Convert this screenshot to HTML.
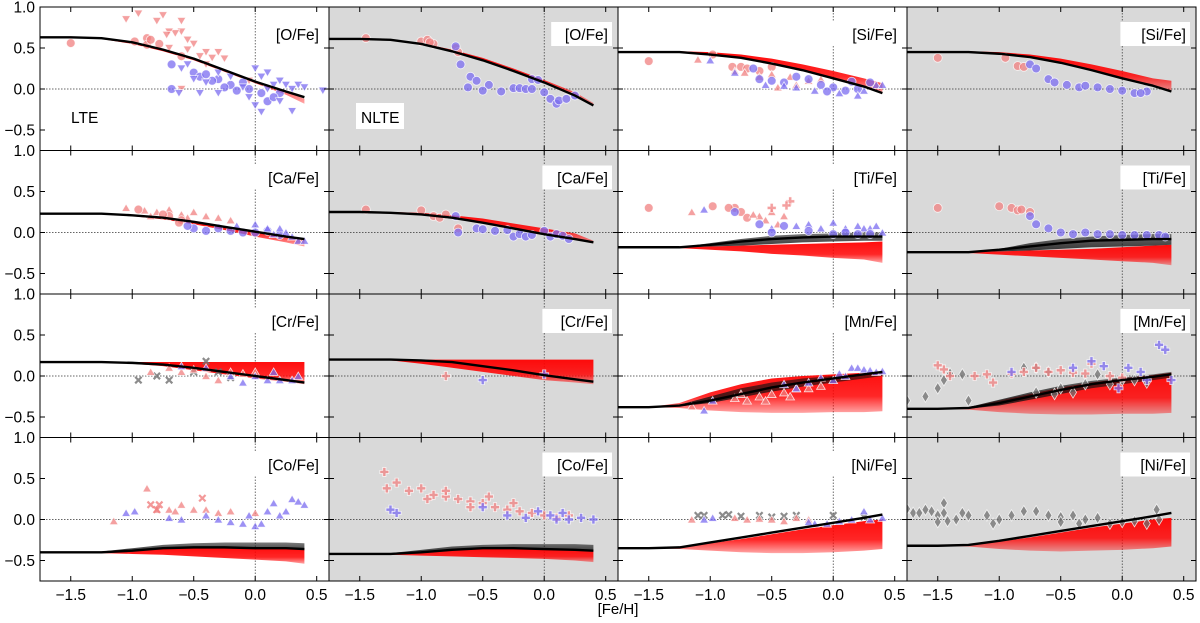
<!DOCTYPE html>
<html><head><meta charset="utf-8"><style>
html,body{margin:0;padding:0;background:#fff;}
svg{display:block;font-family:"Liberation Sans","DejaVu Sans",sans-serif;}
</style></head><body>
<svg id="fig" width="1200" height="623" viewBox="0 0 1200 623">
<defs>
<linearGradient id="redGrad" x1="0" y1="0" x2="0" y2="1">
<stop offset="0" stop-color="#ff0000" stop-opacity="0.95"/>
<stop offset="0.6" stop-color="#ff0000" stop-opacity="0.85"/>
<stop offset="1" stop-color="#ff0000" stop-opacity="0.35"/>
</linearGradient>
<linearGradient id="blkGrad" x1="0" y1="0" x2="0" y2="1">
<stop offset="0" stop-color="#111" stop-opacity="0.55"/>
<stop offset="1" stop-color="#111" stop-opacity="0.85"/>
</linearGradient>
</defs>
</svg>
<script>
// ---- data ----
const modelX = [-1.75,-1.5,-1.25,-1.0,-0.75,-0.5,-0.25,0,0.25,0.4];
const xTicks = [-1.5,-1.0,-0.5,0.0,0.5];
const xTickLabels = ["\u22121.5","\u22121.0","\u22120.5","0.0","0.5"];
const yTicks = [-0.5,0.0,0.5,1.0];
const yTickLabels = ["\u22120.5","0.0","0.5","1.0"];
const panelLabels = ["[O/Fe]","[O/Fe]","[Si/Fe]","[Si/Fe]","[Ca/Fe]","[Ca/Fe]","[Ti/Fe]","[Ti/Fe]","[Cr/Fe]","[Cr/Fe]","[Mn/Fe]","[Mn/Fe]","[Co/Fe]","[Co/Fe]","[Ni/Fe]","[Ni/Fe]"];

const lineO_L=[0.63,0.63,0.62,0.57,0.48,0.37,0.23,0.09,-0.03,-0.1];
const lineO_N=[0.61,0.61,0.6,0.55,0.46,0.35,0.22,0.08,-0.08,-0.2];
const lineSi_L=[0.45,0.45,0.45,0.42,0.38,0.31,0.23,0.13,0.03,-0.05];
const lineSi_N=[0.45,0.45,0.45,0.43,0.39,0.32,0.23,0.13,0.04,-0.03];
const lineCa_L=[0.23,0.23,0.23,0.21,0.18,0.13,0.07,0.01,-0.05,-0.08];
const lineCa_N=[0.25,0.25,0.24,0.22,0.18,0.12,0.05,-0.02,-0.08,-0.12];
const lineTi_L=[-0.18,-0.18,-0.18,-0.15,-0.11,-0.08,-0.06,-0.05,-0.05,-0.05];
const lineTi_N=[-0.24,-0.24,-0.24,-0.21,-0.17,-0.13,-0.1,-0.09,-0.08,-0.08];
const lineCr_L=[0.17,0.17,0.17,0.16,0.14,0.1,0.05,0.0,-0.05,-0.08];
const lineCr_N=[0.2,0.2,0.2,0.19,0.17,0.12,0.07,0.01,-0.04,-0.07];
const lineMn_L=[-0.38,-0.38,-0.36,-0.3,-0.22,-0.14,-0.08,-0.03,0.02,0.05];
const lineMn_N=[-0.4,-0.4,-0.39,-0.33,-0.25,-0.17,-0.1,-0.05,-0.01,0.02];
const lineCo_L=[-0.4,-0.4,-0.4,-0.38,-0.35,-0.34,-0.34,-0.35,-0.35,-0.36];
const lineCo_N=[-0.42,-0.42,-0.42,-0.4,-0.37,-0.35,-0.35,-0.36,-0.37,-0.38];
const lineNi_L=[-0.35,-0.35,-0.34,-0.28,-0.22,-0.16,-0.1,-0.04,0.02,0.06];
const lineNi_N=[-0.32,-0.32,-0.31,-0.26,-0.2,-0.14,-0.08,-0.02,0.04,0.08];

const redUpO_L=[0.63,0.63,0.62,0.57,0.48,0.37,0.23,0.09,-0.03,-0.12];
const redLoO_L=[0.63,0.63,0.61,0.55,0.46,0.35,0.21,0.07,-0.07,-0.18];
const redUpO_N=[0.61,0.61,0.6,0.56,0.48,0.38,0.25,0.11,-0.04,-0.17];
const redLoO_N=[0.61,0.61,0.6,0.55,0.46,0.35,0.22,0.08,-0.08,-0.2];
const redUpSi_L=[0.45,0.45,0.46,0.45,0.42,0.37,0.3,0.22,0.13,0.07];
const redLoSi_L=[0.45,0.45,0.45,0.42,0.38,0.31,0.23,0.13,0.03,-0.05];
const redUpSi_N=[0.45,0.45,0.46,0.45,0.42,0.37,0.3,0.22,0.13,0.1];
const redLoSi_N=[0.45,0.45,0.45,0.43,0.39,0.32,0.23,0.13,0.04,-0.03];
const redUpCa_L=[0.23,0.23,0.23,0.21,0.18,0.13,0.07,0.01,-0.05,-0.08];
const redLoCa_L=[0.23,0.23,0.22,0.2,0.16,0.1,0.03,-0.05,-0.12,-0.17];
const redUpCa_N=[0.25,0.25,0.25,0.24,0.21,0.17,0.11,0.05,-0.01,-0.1];
const redLoCa_N=[0.25,0.25,0.24,0.22,0.18,0.12,0.05,-0.02,-0.09,-0.13];
const redUpTi_L=[-0.18,-0.18,-0.18,-0.17,-0.16,-0.15,-0.14,-0.13,-0.12,-0.11];
const redLoTi_L=[-0.18,-0.18,-0.19,-0.21,-0.23,-0.26,-0.28,-0.31,-0.33,-0.37];
const redUpTi_N=[-0.24,-0.24,-0.24,-0.23,-0.22,-0.21,-0.2,-0.18,-0.16,-0.15];
const redLoTi_N=[-0.24,-0.24,-0.25,-0.27,-0.29,-0.31,-0.33,-0.35,-0.37,-0.4];
const redUpCr_L=[0.17,0.17,0.17,0.17,0.17,0.17,0.17,0.17,0.17,0.17];
const redLoCr_L=[0.17,0.17,0.17,0.15,0.12,0.07,0.02,-0.03,-0.07,-0.1];
const redUpCr_N=[0.2,0.2,0.2,0.2,0.2,0.2,0.2,0.2,0.2,0.2];
const redLoCr_N=[0.2,0.2,0.19,0.15,0.1,0.05,0.0,-0.05,-0.08,-0.1];
const redUpMn_L=[-0.38,-0.38,-0.33,-0.2,-0.1,-0.03,0.0,0.02,0.04,0.06];
const redLoMn_L=[-0.38,-0.38,-0.39,-0.42,-0.44,-0.45,-0.45,-0.44,-0.44,-0.43];
const redUpMn_N=[-0.4,-0.4,-0.38,-0.3,-0.22,-0.14,-0.08,-0.03,0.01,0.04];
const redLoMn_N=[-0.4,-0.4,-0.41,-0.44,-0.46,-0.47,-0.47,-0.46,-0.46,-0.45];
const redUpCo_L=[-0.4,-0.4,-0.4,-0.38,-0.35,-0.34,-0.34,-0.35,-0.35,-0.36];
const redLoCo_L=[-0.4,-0.4,-0.41,-0.42,-0.43,-0.45,-0.47,-0.49,-0.51,-0.54];
const redUpCo_N=[-0.42,-0.42,-0.42,-0.4,-0.37,-0.35,-0.35,-0.36,-0.37,-0.38];
const redLoCo_N=[-0.42,-0.42,-0.43,-0.44,-0.45,-0.46,-0.47,-0.48,-0.5,-0.52];
const redUpNi_L=[-0.35,-0.35,-0.34,-0.29,-0.24,-0.18,-0.12,-0.07,-0.02,0.0];
const redLoNi_L=[-0.35,-0.35,-0.36,-0.38,-0.4,-0.41,-0.41,-0.4,-0.38,-0.36];
const redUpNi_N=[-0.32,-0.32,-0.31,-0.27,-0.22,-0.16,-0.1,-0.05,0.0,0.02];
const redLoNi_N=[-0.32,-0.32,-0.33,-0.36,-0.38,-0.39,-0.38,-0.37,-0.35,-0.33];

const blkUpTi_L=[-0.18,-0.18,-0.18,-0.13,-0.08,-0.04,-0.02,-0.01,0.0,0.0];
const blkLoTi_L=[-0.18,-0.18,-0.18,-0.17,-0.16,-0.14,-0.12,-0.11,-0.1,-0.1];
const blkUpTi_N=[-0.24,-0.24,-0.24,-0.2,-0.13,-0.08,-0.05,-0.03,-0.02,-0.02];
const blkLoTi_N=[-0.24,-0.24,-0.24,-0.23,-0.22,-0.2,-0.18,-0.17,-0.16,-0.15];
const blkUpMn_L=[-0.38,-0.38,-0.35,-0.25,-0.15,-0.08,-0.03,0.0,0.03,0.06];
const blkLoMn_L=[-0.38,-0.38,-0.37,-0.33,-0.26,-0.19,-0.13,-0.08,-0.03,0.0];
const blkUpMn_N=[-0.4,-0.4,-0.38,-0.29,-0.2,-0.12,-0.06,-0.02,0.02,0.05];
const blkLoMn_N=[-0.4,-0.4,-0.4,-0.36,-0.29,-0.22,-0.15,-0.1,-0.05,-0.02];
const blkUpCo_L=[-0.4,-0.4,-0.39,-0.35,-0.31,-0.29,-0.28,-0.28,-0.28,-0.29];
const blkUpCo_N=[-0.42,-0.42,-0.41,-0.37,-0.33,-0.31,-0.3,-0.3,-0.3,-0.31];

const oL_redV=[[-0.95,0.92],[-1.05,0.85],[-0.75,0.9],[-0.8,0.83],[-0.6,0.83],[-0.6,0.7],[-0.65,0.68],[-0.7,0.7],[-0.72,0.66],[-0.4,0.45],[-0.45,0.4],[-0.3,0.45],[-0.35,0.38],[-0.5,0.55],[-0.55,0.6],[-0.25,0.37],[-0.4,0.3],[-0.55,0.48],[-0.7,0.5],[-0.05,0.1],[-0.6,0.0]];
const oL_redO=[[-1.5,0.56],[-0.98,0.58],[-0.88,0.62],[-0.78,0.55],[-0.88,0.54],[-0.6,0.4],[-0.85,0.6]];
const oL_blueO=[[-0.68,0.3],[-0.5,0.2],[-0.45,0.15],[-0.3,0.12],[-0.68,0.0],[-0.2,0.05],[-0.1,0.08],[-0.05,0.0],[0.05,-0.05],[0.1,-0.15],[0.2,-0.05],[0.15,-0.1],[-0.35,0.1],[-0.15,-0.02],[-0.4,0.18],[-0.25,0.02]];
const oL_blueV=[[-0.6,0.25],[-0.55,0.3],[-0.5,0.12],[-0.4,0.08],[-0.3,0.2],[-0.2,0.15],[-0.1,0.02],[0.0,0.25],[0.05,0.15],[0.1,0.0],[0.15,0.05],[0.2,0.1],[0.25,0.05],[0.3,0.0],[0.35,0.05],[0.4,0.02],[0.3,-0.27],[0.0,-0.2],[0.05,-0.28],[-0.3,-0.05],[-0.62,-0.05],[0.55,-0.02],[0.2,-0.15],[-0.45,-0.05],[0.1,0.2],[-0.05,-0.1]];
const oN_redO=[[-1.45,0.62],[-1.0,0.58],[-0.95,0.6],[-0.9,0.55],[-0.93,0.57],[-0.72,0.5],[-0.7,0.45]];
const oN_blueO=[[-0.72,0.52],[-0.68,0.3],[-0.6,0.15],[-0.55,0.1],[-0.45,0.05],[-0.62,0.02],[-0.5,-0.02],[-0.35,-0.03],[-0.25,0.01],[-0.2,0.01],[-0.15,0.0],[-0.1,0.0],[0.0,-0.04],[0.05,-0.12],[0.1,-0.18],[0.12,-0.14],[0.18,-0.12],[0.25,-0.08],[-0.1,0.12],[-0.05,0.11]];
const siL_redO=[[-1.5,0.34],[-0.98,0.42],[-0.75,0.27],[-0.7,0.25],[-0.5,0.27],[-0.6,0.22],[-0.82,0.27]];
const siL_redT=[[-1.1,0.36],[-0.72,0.2],[-0.6,0.15],[-0.45,0.02],[-0.3,0.05],[-0.2,0.1],[-0.5,0.18],[-0.35,0.15],[-0.8,0.22],[-0.1,0.12]];
const siL_blueO=[[-0.65,0.25],[-0.4,0.08],[-0.3,0.15],[-0.2,0.12],[-0.1,0.05],[0.0,0.02],[0.1,-0.02],[0.2,0.0],[-0.5,0.1],[0.3,0.08],[0.15,0.09],[-0.05,-0.03],[-0.6,0.12]];
const siL_blueT=[[-1.0,0.35],[-0.8,0.2],[-0.3,0.02],[0.2,-0.08],[0.35,0.05],[0.4,0.05],[0.05,-0.05],[-0.15,-0.02],[-0.55,0.05],[0.25,-0.02],[-0.4,0.04]];
const siN_redO=[[-1.5,0.38],[-0.95,0.38],[-0.85,0.28],[-0.8,0.27]];
const siN_blueO=[[-0.75,0.3],[-0.7,0.25],[-0.6,0.12],[-0.55,0.08],[-0.45,0.05],[-0.35,0.02],[-0.3,0.04],[-0.2,0.02],[-0.1,0.0],[0.0,-0.02],[0.1,-0.05],[0.2,-0.03],[0.15,-0.05]];
const caL_redT=[[-1.05,0.3],[-0.9,0.27],[-0.8,0.25],[-0.7,0.28],[-0.6,0.22],[-0.5,0.25],[-0.4,0.2],[-0.3,0.18],[-0.2,0.15],[-0.85,0.2],[-0.55,0.18]];
const caL_redO=[[-0.95,0.28],[-0.7,0.2],[-0.6,0.15],[-0.75,0.22],[-0.62,0.12]];
const caL_blueO=[[-0.5,0.05],[-0.4,0.02],[-0.3,0.05],[-0.2,0.02],[-0.1,0.0],[0.0,0.0],[0.1,0.02],[0.2,-0.03],[-0.55,0.08]];
const caL_blueT=[[0.0,0.1],[0.1,0.05],[0.2,0.05],[0.3,-0.05],[0.35,-0.1],[0.4,-0.1],[0.25,0.0],[-0.15,0.08],[0.15,-0.02]];
const caN_redO=[[-1.45,0.28],[-1.0,0.27],[-0.9,0.2],[-0.85,0.18],[-0.8,0.22],[-0.7,0.05]];
const caN_blueO=[[-0.72,0.2],[-0.7,0.0],[-0.55,0.05],[-0.5,0.04],[-0.4,0.02],[-0.3,0.03],[-0.25,-0.05],[-0.2,-0.02],[-0.15,-0.05],[-0.1,-0.03],[0.0,0.02],[0.05,-0.05],[0.1,-0.02],[0.15,-0.04],[0.2,-0.08]];
const tiL_redO=[[-1.5,0.3],[-0.98,0.32],[-0.8,0.3],[-0.75,0.25],[-0.7,0.18],[-0.85,0.3]];
const tiL_redT=[[-1.15,0.25],[-0.6,0.2],[-0.5,0.25],[-0.4,0.2],[-0.45,0.1],[-0.65,0.22],[-0.55,0.15]];
const tiL_redP=[[-0.35,0.38],[-0.38,0.33],[-0.5,0.3]];
const tiL_blueT=[[-1.05,0.28],[-0.3,0.08],[-0.2,0.1],[-0.1,0.05],[0.0,0.12],[0.1,0.05],[0.2,0.08],[0.3,0.05],[0.4,0.0],[-0.5,0.05],[0.35,0.08],[0.25,0.05]];
const tiL_blueO=[[-0.8,0.25],[-0.6,0.1],[-0.4,0.08],[-0.2,0.02],[0.0,-0.02],[0.1,0.0],[0.2,-0.02],[0.3,-0.02],[-0.5,0.0]];
const tiN_redO=[[-1.5,0.3],[-1.0,0.32],[-0.9,0.3],[-0.85,0.27],[-0.82,0.28],[-0.75,0.25]];
const tiN_blueO=[[-0.75,0.2],[-0.7,0.1],[-0.6,0.05],[-0.5,0.0],[-0.4,-0.02],[-0.3,0.0],[-0.2,-0.02],[-0.1,-0.02],[0.0,-0.03],[0.1,-0.03],[0.2,-0.03],[0.3,-0.03],[0.35,-0.05]];
const crL_grayX=[[-0.95,-0.05],[-0.8,0.0],[-0.4,0.18],[-0.5,0.05],[-0.3,0.05],[-0.2,-0.02],[-0.7,-0.05]];
const crL_redT=[[-0.85,0.05],[-0.7,0.1],[-0.6,0.05],[-0.5,0.08],[-0.4,0.0],[-0.3,-0.05],[-0.2,0.05],[-0.1,0.03],[0.0,0.05]];
const crL_blueT=[[-0.6,0.12],[-0.4,0.1],[-0.2,0.0],[0.0,0.0],[0.1,-0.05],[0.2,-0.05],[0.3,-0.05],[0.35,0.0],[-0.1,-0.08],[0.15,0.05]];
const crN_redP=[[-0.8,0.0]];
const crN_blueP=[[-0.5,-0.05],[0.0,0.02]];
const mnL_redT=[[-1.15,-0.37],[-0.8,-0.27],[-0.7,-0.3],[-0.6,-0.25],[-0.5,-0.22],[-0.4,-0.2],[-0.3,-0.15],[-0.2,-0.15],[-0.1,-0.12],[-0.55,-0.3],[-0.35,-0.25],[-0.75,-0.22]];
const mnL_blueT=[[-1.05,-0.42],[-0.98,-0.3],[-0.4,-0.1],[-0.3,-0.15],[-0.2,-0.08],[0.0,-0.05],[0.1,0.0],[0.15,0.1],[0.2,0.1],[0.25,0.08],[0.3,0.07],[0.35,0.05],[0.4,0.06],[0.05,0.03],[-0.1,-0.02]];
const mnN_grayD=[[-1.75,-0.3],[-1.6,-0.25],[-1.5,-0.15],[-1.45,-0.05],[-1.4,0.03],[-1.3,0.02],[-1.25,-0.3],[-0.8,0.1],[-0.7,0.1],[-0.6,0.05],[-0.5,-0.15],[-0.4,-0.2],[-0.3,-0.1],[-0.2,0.02],[-0.1,-0.1],[0.0,-0.05],[0.1,-0.05],[0.2,-0.08],[-0.7,-0.2],[-0.55,-0.22]];
const mnN_redP=[[-1.5,0.13],[-1.45,0.08],[-1.4,0.0],[-1.2,0.0],[-1.1,0.02],[-1.05,-0.08],[-0.9,0.03],[-0.8,0.05],[-0.6,0.05],[-0.5,0.07],[-0.4,0.04],[-0.3,0.03],[-0.1,0.0],[0.0,-0.02],[-0.7,0.1],[-0.25,0.15]];
const mnN_blueP=[[-0.25,0.18],[-0.15,0.12],[0.3,0.38],[0.35,0.32],[-0.9,0.05],[-0.4,0.1],[0.05,0.1],[0.15,0.05],[0.2,-0.05],[0.4,-0.05],[-0.03,-0.15]];
const coL_redT=[[-1.15,-0.02],[-0.88,0.38],[-0.7,0.12],[-0.6,0.18],[-0.5,0.12],[-0.4,0.12],[-0.3,0.08],[-0.2,0.1],[0.0,0.08],[-0.65,0.1],[-0.8,0.12]];
const coL_redX=[[-0.85,0.18],[-0.8,0.12],[-0.78,0.18],[-0.43,0.26]];
const coL_blueT=[[-1.05,0.08],[-0.98,0.1],[-0.7,0.02],[-0.6,0.0],[-0.4,0.05],[-0.3,0.0],[-0.2,-0.03],[-0.1,-0.05],[0.0,-0.08],[0.1,0.1],[0.15,0.2],[0.2,0.05],[0.3,0.25],[0.35,0.22],[0.4,0.18],[0.25,0.1],[-0.05,0.05],[0.05,-0.05]];
const coN_redP=[[-1.3,0.58],[-1.28,0.38],[-1.2,0.45],[-1.1,0.35],[-1.0,0.38],[-0.9,0.3],[-0.8,0.28],[-0.7,0.25],[-0.6,0.22],[-0.5,0.2],[-0.4,0.15],[-0.3,0.12],[-0.2,0.1],[-0.1,0.08],[0.0,0.05],[0.1,0.02],[-0.6,0.15],[-0.45,0.28],[-0.25,0.2],[0.2,0.05],[-0.8,0.35],[-0.95,0.25]];
const coN_blueP=[[-1.25,0.12],[-1.2,0.08],[-0.5,0.15],[-0.15,0.02],[-0.05,0.1],[0.05,0.05],[0.1,0.0],[0.2,0.0],[0.3,0.02],[0.4,0.0],[-0.3,0.05],[0.15,0.08]];
const niL_grayX=[[-1.1,0.05],[-1.05,0.05],[-0.9,0.05],[-0.85,0.06],[-0.75,0.04],[-0.6,0.05],[-0.5,0.03],[-0.4,0.04],[0.0,0.05],[0.25,0.03],[-0.3,0.05]];
const niL_redT=[[-1.15,0.0],[-0.8,0.02],[-0.7,0.0],[-0.6,0.01],[-0.5,0.0],[-0.4,-0.02],[-0.3,0.02],[-0.2,0.0]];
const niL_blueT=[[-1.05,0.0],[-0.98,0.02],[-0.15,-0.05],[-0.05,-0.05],[0.05,-0.02],[0.15,0.0],[0.25,0.1],[0.4,0.02],[0.3,0.0],[-0.2,-0.03]];
const niN_grayD=[[-1.75,0.13],[-1.7,0.08],[-1.65,0.08],[-1.6,0.12],[-1.55,0.1],[-1.5,0.05],[-1.45,0.2],[-1.45,0.08],[-1.42,-0.02],[-1.5,-0.03],[-1.35,0.0],[-1.3,0.08],[-1.25,0.05],[-1.1,0.05],[-1.05,-0.05],[-1.0,0.0],[-0.9,0.05],[-0.8,0.1],[-0.7,0.1],[-0.6,0.05],[-0.5,0.03],[-0.4,0.05],[-0.3,0.0],[-0.2,0.02],[-0.1,-0.05],[0.0,-0.03],[0.1,-0.02],[0.2,-0.05],[0.28,0.12],[0.3,0.0],[-0.5,-0.03],[-0.35,-0.05]];

const RED="#f08080", BLUE="#7b6cf0", GRAY="#6f6f6f";
const panels=[
 {line:lineO_L,rU:redUpO_L,rL:redLoO_L,s:[[oL_redV,'v',RED],[oL_redO,'o',RED],[oL_blueO,'o',BLUE],[oL_blueV,'v',BLUE]]},
 {line:lineO_N,rU:redUpO_N,rL:redLoO_N,s:[[oN_redO,'o',RED],[oN_blueO,'o',BLUE]]},
 {line:lineSi_L,rU:redUpSi_L,rL:redLoSi_L,s:[[siL_redO,'o',RED],[siL_redT,'^',RED],[siL_blueO,'o',BLUE],[siL_blueT,'^',BLUE]]},
 {line:lineSi_N,rU:redUpSi_N,rL:redLoSi_N,s:[[siN_redO,'o',RED],[siN_blueO,'o',BLUE]]},
 {line:lineCa_L,rU:redUpCa_L,rL:redLoCa_L,s:[[caL_redT,'^',RED],[caL_redO,'o',RED],[caL_blueO,'o',BLUE],[caL_blueT,'^',BLUE]]},
 {line:lineCa_N,rU:redUpCa_N,rL:redLoCa_N,s:[[caN_redO,'o',RED],[caN_blueO,'o',BLUE]]},
 {line:lineTi_L,rU:redUpTi_L,rL:redLoTi_L,bU:blkUpTi_L,bL:blkLoTi_L,s:[[tiL_redO,'o',RED],[tiL_redT,'^',RED],[tiL_redP,'P',RED],[tiL_blueT,'^',BLUE],[tiL_blueO,'o',BLUE]]},
 {line:lineTi_N,rU:redUpTi_N,rL:redLoTi_N,bU:blkUpTi_N,bL:blkLoTi_N,s:[[tiN_redO,'o',RED],[tiN_blueO,'o',BLUE]]},
 {line:lineCr_L,rU:redUpCr_L,rL:redLoCr_L,s:[[crL_grayX,'x',GRAY],[crL_redT,'^',RED],[crL_blueT,'^',BLUE]]},
 {line:lineCr_N,rU:redUpCr_N,rL:redLoCr_N,s:[[crN_redP,'P',RED],[crN_blueP,'P',BLUE]]},
 {line:lineMn_L,rU:redUpMn_L,rL:redLoMn_L,bU:blkUpMn_L,bL:blkLoMn_L,s:[[mnL_redT,'^',RED],[mnL_blueT,'^',BLUE]]},
 {line:lineMn_N,rU:redUpMn_N,rL:redLoMn_N,bU:blkUpMn_N,bL:blkLoMn_N,s:[[mnN_grayD,'D',GRAY],[mnN_redP,'P',RED],[mnN_blueP,'P',BLUE]]},
 {line:lineCo_L,rU:redUpCo_L,rL:redLoCo_L,bU:blkUpCo_L,bL:lineCo_L,s:[[coL_redT,'^',RED],[coL_redX,'x',RED],[coL_blueT,'^',BLUE]]},
 {line:lineCo_N,rU:redUpCo_N,rL:redLoCo_N,bU:blkUpCo_N,bL:lineCo_N,s:[[coN_redP,'P',RED],[coN_blueP,'P',BLUE]]},
 {line:lineNi_L,rU:redUpNi_L,rL:redLoNi_L,s:[[niL_grayX,'x',GRAY],[niL_redT,'^',RED],[niL_blueT,'^',BLUE]]},
 {line:lineNi_N,rU:redUpNi_N,rL:redLoNi_N,s:[[niN_grayD,'D',GRAY]]}
];

// ---- drawing ----
const NS="http://www.w3.org/2000/svg";
const svg=document.getElementById('fig');
function mk(tag,attrs,parent){const e=document.createElementNS(NS,tag);for(const k in attrs)e.setAttribute(k,attrs[k]);(parent||svg).appendChild(e);return e;}
const X0=40,Y0=7,PW=289,PH=143.5,XMIN=-1.75,XMAX=0.6,YMIN=-0.75,YMAX=1.0;

function marker(g,t,px,py,col){
  let e;const r=4.4;
  if(t==='o'){e=mk('circle',{cx:px,cy:py,r:r},g);}
  else if(t==='v'){e=mk('polygon',{points:`${px-r},${py-r*0.8} ${px+r},${py-r*0.8} ${px},${py+r*0.9}`},g);}
  else if(t==='^'){e=mk('polygon',{points:`${px-r},${py+r*0.8} ${px+r},${py+r*0.8} ${px},${py-r*0.9}`},g);}
  else if(t==='D'){e=mk('polygon',{points:`${px},${py-r*1.3} ${px+r*0.8},${py} ${px},${py+r*1.3} ${px-r*0.8},${py}`},g);}
  else if(t==='P'){const a=1.6,b=4.5;e=mk('polygon',{points:`${px-a},${py-b} ${px+a},${py-b} ${px+a},${py-a} ${px+b},${py-a} ${px+b},${py+a} ${px+a},${py+a} ${px+a},${py+b} ${px-a},${py+b} ${px-a},${py+a} ${px-b},${py+a} ${px-b},${py-a} ${px-a},${py-a}`},g);}
  else {e=mk('path',{d:`M${px-3.2},${py-3.2}L${px+3.2},${py+3.2}M${px-3.2},${py+3.2}L${px+3.2},${py-3.2}`,stroke:col,'stroke-width':2.2,fill:'none','opacity':0.8},g);
    
    return;}
  e.setAttribute('fill',col);e.setAttribute('fill-opacity',0.75);e.setAttribute('stroke','#fff');e.setAttribute('stroke-width',0.8);e.setAttribute('stroke-opacity',0.8);
  
  
}

panels.forEach((p,i)=>{
  const r=Math.floor(i/4),c=i%4;
  const L=X0+c*PW,T=Y0+r*PH;
  const sx=v=>L+(v-XMIN)/(XMAX-XMIN)*PW;
  const sy=v=>T+(YMAX-v)/(YMAX-YMIN)*PH;
  const g=mk('g',{});
  
  
  const clipId='clip'+i;
  const cp=mk('clipPath',{id:clipId},g);mk('rect',{x:L,y:T,width:PW,height:PH},cp);
  const bg=mk('rect',{x:L,y:T,width:PW,height:PH,fill:c%2?'#d9d9d9':'#ffffff'},g);
  
  
  const inner=mk('g',{'clip-path':`url(#${clipId})`},g);
  mk('line',{x1:L,x2:L+PW,y1:sy(0),y2:sy(0),stroke:'#333','stroke-width':0.7,'stroke-dasharray':'1.5,1.5'},inner);
  mk('line',{x1:sx(0),x2:sx(0),y1:T,y2:T+PH,stroke:'#333','stroke-width':0.7,'stroke-dasharray':'1.5,1.5'},inner);
  function band(up,lo,fill,name){
    let pts=modelX.map((x,k)=>`${sx(x)},${sy(up[k])}`);
    for(let k=modelX.length-1;k>=0;k--)pts.push(`${sx(modelX[k])},${sy(lo[k])}`);
    const e=mk('polygon',{points:pts.join(' '),fill:fill,stroke:'none'},inner);
    
    
  }
  band(p.rU,p.rL,'url(#redGrad)','red-model-band');
  if(p.bU) band(p.bU,p.bL,'url(#blkGrad)','black-model-band');
  p.s.forEach(([arr,t,col])=>arr.forEach(([x,y])=>marker(inner,t,sx(x),sy(y),col)));
  const ln=mk('polyline',{points:modelX.map((x,k)=>`${sx(x)},${sy(p.line[k])}`).join(' '),fill:'none',stroke:'#000','stroke-width':2.4,'stroke-linejoin':'round'},inner);
  
  
  xTicks.forEach(v=>{const x=sx(v);if(x<L+1||x>L+PW-1)return;
    mk('line',{x1:x,x2:x,y1:T,y2:T+5,stroke:'#000','stroke-width':1},g);
    mk('line',{x1:x,x2:x,y1:T+PH,y2:T+PH-5,stroke:'#000','stroke-width':1},g);});
  yTicks.forEach(v=>{const y=sy(v);if(y<T+1)return;
    mk('line',{x1:L,x2:L+5,y1:y,y2:y,stroke:'#000','stroke-width':1},g);
    mk('line',{x1:L+PW,x2:L+PW-5,y1:y,y2:y,stroke:'#000','stroke-width':1},g);});
  const lb=panelLabels[i];
  const bw=lb.length*8.8+8;
  mk('rect',{x:L+PW-bw-6,y:T+15,width:bw,height:24,fill:'#fff'},g);
  const tl=mk('text',{x:L+PW-10,y:T+33,'text-anchor':'end','font-size':15.5,fill:'#000'},g);
  tl.textContent=lb;
  
  
  mk('rect',{x:L,y:T,width:PW,height:PH,fill:'none',stroke:'#000','stroke-width':1},g);
  if(c===0){
    yTicks.forEach((v,k)=>{const t=mk('text',{x:L-5,y:sy(v)+5.5,'text-anchor':'end','font-size':15.5,fill:'#000'});t.textContent=yTickLabels[k];
      
      });
  }
  if(r===3){
    xTicks.forEach((v,k)=>{const t=mk('text',{x:sx(v),y:T+PH+19,'text-anchor':'middle','font-size':15.5,fill:'#000'});t.textContent=xTickLabels[k];
      
      });
  }
});
mk('rect',{x:356,y:103,width:48,height:26,fill:'#fff'});
const lte=mk('text',{x:71,y:123,'font-size':15.5,fill:'#000'});lte.textContent='LTE';


const nlte=mk('text',{x:361,y:123,'font-size':15.5,fill:'#000'});nlte.textContent='NLTE';


const xt=mk('text',{x:618,y:614,'text-anchor':'middle','font-size':15,fill:'#000'});xt.textContent='[Fe/H]';


</script>
</body></html>
